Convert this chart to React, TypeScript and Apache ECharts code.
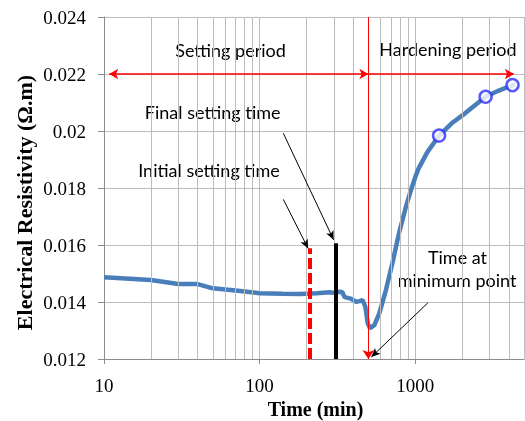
import React, { useEffect, useRef } from "react";
import * as echarts from "echarts";

// Time (min) and electrical resistivity (Ω.m)
const times = [10, 20, 30, 40, 50, 70, 100, 140, 182, 232, 282, 300, 327, 340, 352, 385, 417, 440, 459, 478, 495, 512, 546, 588, 648, 713, 787, 867, 935, 1000, 1050, 1194, 1423, 1715, 2090, 2833, 3415, 4220, 4400];
const resistivity = [0.01487, 0.01477, 0.01463, 0.01463, 0.01448, 0.0144, 0.01431, 0.01429, 0.01428, 0.01431, 0.01434, 0.01432, 0.01436, 0.01434, 0.01417, 0.01412, 0.01401, 0.01403, 0.01407, 0.01384, 0.01325, 0.01308, 0.01319, 0.0136, 0.01442, 0.01536, 0.01642, 0.0173, 0.0179, 0.01838, 0.01868, 0.01925, 0.01984, 0.02027, 0.02062, 0.0212, 0.02141, 0.02161, 0.02162];

// highlighted points (open circles)
const markerTimes = [1423, 2833, 4220];
const markerValues = [0.01984, 0.0212, 0.02161];

// key times (min)
const initialSettingTime = 210;
const finalSettingTime = 310;
const minimumPointTime = 500;

// minor gridlines of the log axis
const minorGridTimes = [20, 30, 40, 50, 60, 70, 80, 90, 200, 300, 400, 500, 600, 700, 800, 900, 2000, 3000, 4000];

const xMin = 10;
const xMax = 5000;
const yMin = 0.012;
const yMax = 0.024;
const yStep = 0.002;

export default function App() {
  const ref = useRef<HTMLDivElement>(null);
  useEffect(() => {
    if (!ref.current) return;
    const chart = echarts.init(ref.current, null, { renderer: "svg" });
    const serif = "'Liberation Serif', 'Times New Roman', serif";
    const sans = "Lato, 'Noto Sans', sans-serif";
    const gridColor = "#bcbcbc";
    const axisColor = "#8c8c8c";
    const annoFont = { fontFamily: sans, fontSize: 18, fill: "#000" };

    chart.setOption({
      animation: false,
      grid: { left: 104, right: 1, top: 17, bottom: 62, containLabel: false },
      xAxis: {
        type: "log",
        logBase: 10,
        min: xMin,
        max: xMax,
        axisLine: { show: true, lineStyle: { color: axisColor, width: 1 } },
        axisTick: { show: true, length: 5, lineStyle: { color: axisColor } },
        axisLabel: {
          margin: 17,
          fontFamily: serif,
          fontSize: 19,
          color: "#000",
          showMaxLabel: false,
          formatter: (v: number) => {
            const e = Math.log10(v);
            return Math.abs(e - Math.round(e)) < 1e-6 ? String(Math.round(v)) : "";
          },
        },
        splitLine: { show: true, lineStyle: { color: gridColor, width: 1 } },
      },
      yAxis: {
        type: "value",
        min: yMin,
        max: yMax,
        interval: yStep,
        axisLine: { show: true, lineStyle: { color: axisColor, width: 1 } },
        axisTick: { show: true, length: 6, lineStyle: { color: axisColor } },
        axisLabel: {
          margin: 18,
          fontFamily: serif,
          fontSize: 19,
          color: "#000",
          formatter: (v: number) => String(parseFloat(v.toFixed(3))),
        },
        splitLine: { show: true, lineStyle: { color: gridColor, width: 1 } },
      },
      series: [
        {
          type: "line",
          data: [],
          z: 1,
          silent: true,
          markLine: {
            silent: true,
            symbol: ["none", "none"],
            label: { show: false },
            lineStyle: { color: gridColor, width: 1, type: "solid" },
            data: minorGridTimes.map((t) => ({ xAxis: t })),
          },
        },
        {
          type: "line",
          data: times.map((t, i) => [t, resistivity[i]]),
          showSymbol: false,
          symbol: "none",
          z: 3,
          lineStyle: { color: "#4a7ebb", width: 4.5 },
        },
        {
          type: "scatter",
          data: markerTimes.map((t, i) => [t, markerValues[i]]),
          symbol: "circle",
          symbolSize: 12,
          z: 5,
          itemStyle: { color: "#ffffff", borderColor: "#2e2eff", borderWidth: 2.5 },
        },
        {
          type: "line",
          data: [],
          z: 4,
          silent: true,
          markLine: {
            silent: true,
            label: { show: false },
            data: [
              // setting period arrow
              [
                { coord: [10.8, 0.022], symbol: "arrow", symbolSize: [8, 9], lineStyle: { color: "#ff0000", width: 1.5, type: "solid" } },
                { coord: [minimumPointTime, 0.022], symbol: "arrow", symbolSize: [8, 9] },
              ],
              // hardening period arrow
              [
                { coord: [minimumPointTime, 0.022], symbol: "none", lineStyle: { color: "#ff0000", width: 1.5, type: "solid" } },
                { coord: [4300, 0.022], symbol: "arrow", symbolSize: [8, 9] },
              ],
              // minimum point vertical
              [
                { coord: [minimumPointTime, yMax], symbol: "none", lineStyle: { color: "#ff0000", width: 1, type: "solid" } },
                { coord: [minimumPointTime, yMin], symbol: "arrow", symbolSize: [9, 9] },
              ],
              // initial setting time (dashed red)
              [
                { coord: [initialSettingTime, yMin], symbol: "none", lineStyle: { color: "#ff0000", width: 4, type: [11, 4] } },
                { coord: [initialSettingTime, 0.01589], symbol: "none" },
              ],
              // final setting time (solid black)
              [
                { coord: [finalSettingTime, yMin], symbol: "none", lineStyle: { color: "#000000", width: 4, type: "solid" } },
                { coord: [finalSettingTime, 0.01606], symbol: "none" },
              ],
              // callout arrows
              [
                { coord: [142, 0.0176], symbol: "none", lineStyle: { color: "#000", width: 1, type: "solid" } },
                { coord: [205, 0.01588], symbol: "arrow", symbolSize: [6, 9] },
              ],
              [
                { coord: [142, 0.01992], symbol: "none", lineStyle: { color: "#000", width: 1, type: "solid" } },
                { coord: [299, 0.01618], symbol: "arrow", symbolSize: [6, 9] },
              ],
              [
                { coord: [1205, 0.01397], symbol: "none", lineStyle: { color: "#000", width: 1, type: "solid" } },
                { coord: [522, 0.01207], symbol: "arrow", symbolSize: [6, 9] },
              ],
            ],
          },
        },
      ],
      graphic: [
        { type: "text", x: 230.5, y: 50, style: { ...annoFont, text: "Setting period", align: "center", verticalAlign: "middle" } },
        { type: "text", x: 448, y: 49, style: { ...annoFont, text: "Hardening period", align: "center", verticalAlign: "middle" } },
        { type: "text", x: 212.7, y: 112, style: { ...annoFont, text: "Final setting time", align: "center", verticalAlign: "middle" } },
        { type: "text", x: 209, y: 170, style: { ...annoFont, text: "Initial setting time", align: "center", verticalAlign: "middle" } },
        { type: "text", x: 457.5, y: 257, style: { ...annoFont, text: "Time at", align: "center", verticalAlign: "middle" } },
        { type: "text", x: 457, y: 280, style: { ...annoFont, text: "minimum point", align: "center", verticalAlign: "middle" } },
        {
          type: "text",
          x: 24,
          y: 202.5,
          rotation: Math.PI / 2,
          style: { text: "Electrical Resistivity (Ω.m)", fontFamily: serif, fontSize: 22, fontWeight: "bold", fill: "#000", align: "center", verticalAlign: "middle" },
        },
        {
          type: "text",
          x: 315.5,
          y: 409,
          style: { text: "Time (min)", fontFamily: serif, fontSize: 20, fontWeight: "bold", fill: "#000", align: "center", verticalAlign: "middle" },
        },
      ],
    });
    return () => chart.dispose();
  }, []);
  return <div ref={ref} style={{ position: "fixed", left: 0, top: 0, width: 525, height: 421 }} />;
}
